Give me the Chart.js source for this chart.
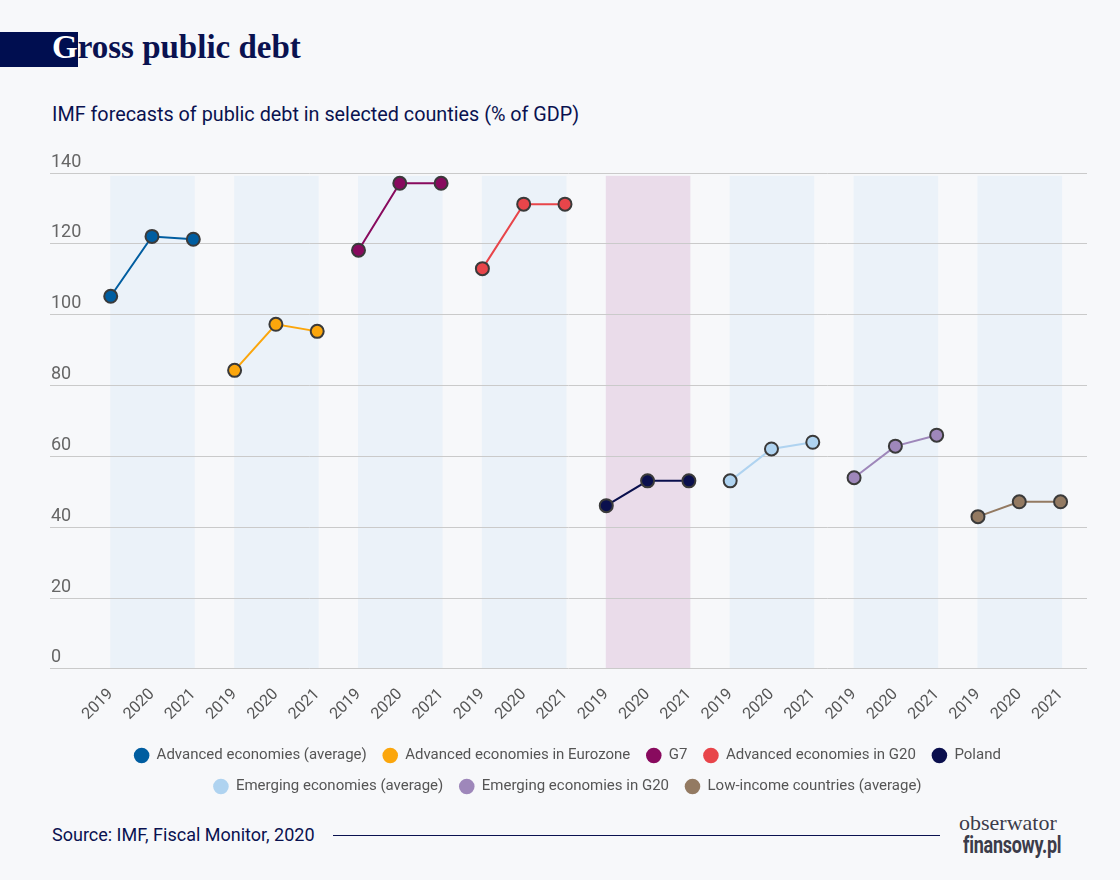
<!DOCTYPE html>
<html><head><meta charset="utf-8">
<script src="https://cdn.jsdelivr.net/npm/chart.js@4"></script>
<style>
html,body{margin:0;padding:0;background:#F7F8FA;}
#page{position:relative;width:1120px;height:880px;overflow:hidden;background:#F7F8FA;font-family:Roboto,sans-serif;}
#tbox{position:absolute;left:0;top:32px;width:78px;height:35px;background:#000E50;}
#title{position:absolute;left:52px;top:31px;font:bold 33px/33px "Liberation Serif",serif;color:#0A1250;white-space:nowrap;}
#title span{color:#fff;}
#sub{position:absolute;left:52px;top:103px;font:19.8px/24px Roboto,sans-serif;color:#0A1250;white-space:nowrap;}
#wrap{position:absolute;left:0;top:130px;width:1120px;height:680px;}
#src{position:absolute;left:52px;top:824px;font:18px/22px Roboto,sans-serif;color:#0A1250;white-space:nowrap;}
#rule{position:absolute;left:333px;top:835px;width:607px;height:1px;background:#0A1250;}
#logo1{position:absolute;left:959px;top:812px;font:22px/22px "Liberation Serif",serif;color:#3C3C4A;white-space:nowrap;}
#logo2{position:absolute;left:963px;top:834px;font:bold 23px/23px Roboto,sans-serif;color:#3C3C4A;white-space:nowrap;transform:scaleX(0.78);transform-origin:left top;letter-spacing:-0.3px;}
</style></head>
<body><div id="page">
<div id="tbox"></div>
<div id="title"><span>G</span>ross public debt</div>
<div id="sub">IMF forecasts of public debt in selected counties (% of GDP)</div>
<div id="wrap"><canvas id="c"></canvas></div>
<div id="src">Source: IMF, Fiscal Monitor, 2020</div>
<div id="rule"></div>
<div id="logo1">obserwator</div>
<div id="logo2">finansowy.pl</div>
</div>
<script>
// ---- data ----
const years = ['2019', '2020', '2021'];
const groupNames = [
  'Advanced economies (average)',
  'Advanced economies in Eurozone',
  'G7',
  'Advanced economies in G20',
  'Poland',
  'Emerging economies (average)',
  'Emerging economies in G20',
  'Low-income countries (average)'
];
const advancedAvg      = [105.2, 122.1, 121.3];
const advancedEurozone = [84.3, 97.3, 95.3];
const g7               = [118.2, 137.1, 137.1];
const advancedG20      = [113.0, 131.2, 131.2];
const poland           = [46.1, 53.1, 53.1];
const emergingAvg      = [53.1, 62.1, 64.0];
const emergingG20      = [54.0, 62.9, 66.0];
const lowIncome        = [43.0, 47.2, 47.2];
const yTickValues      = [0, 20, 40, 60, 80, 100, 120, 140];
const highlightGroup   = 'Poland';

// ---- styles ----
const seriesColors = ['#005DA0', '#FBA60C', '#880A5E', '#E8454A', '#0A0F4D', '#AFD3F0', '#9E87BA', '#937A62'];
const bandBlue = '#EBF2F9';
const bandPink = '#EADCEA';

const seriesValues = [advancedAvg, advancedEurozone, g7, advancedG20, poland, emergingAvg, emergingG20, lowIncome];
const xIndex = [];
seriesValues.forEach((vals, g) => vals.forEach((v, i) => xIndex.push(g * years.length + i)));

const datasets = seriesValues.map((vals, g) => ({
  label: groupNames[g],
  data: vals.map((v, i) => ({x: g * years.length + i, y: v})),
  borderColor: seriesColors[g],
  backgroundColor: seriesColors[g],
  pointBackgroundColor: seriesColors[g],
  pointBorderColor: '#3A3A3A',
  pointBorderWidth: 2,
  pointRadius: 6.5,
  borderWidth: 2,
  tension: 0
}));

const bandPlugin = {
  id: 'bands',
  beforeDraw(chart) {
    const {ctx, scales: {x, y}} = chart;
    ctx.save();
    seriesValues.forEach((vals, g) => {
      const x0 = x.getPixelForValue(g * years.length) - 0.5;
      const x1 = x.getPixelForValue(g * years.length + vals.length - 1) + 1.5;
      const y0 = y.getPixelForValue(139.2);
      const y1 = y.getPixelForValue(0);
      ctx.fillStyle = groupNames[g] === highlightGroup ? bandPink : bandBlue;
      ctx.fillRect(x0, y0, x1 - x0, y1 - y0);
    });
    ctx.restore();
  }
};

const chart = new Chart(document.getElementById('c'), {
  type: 'line',
  data: {datasets},
  plugins: [bandPlugin],
  options: {
    responsive: true,
    maintainAspectRatio: false,
    animation: false,
    events: [],
    layout: {padding: {left: 48, right: 33, top: 43, bottom: 6}},
    scales: {
      x: {
        type: 'linear',
        min: -1.47,
        max: 23.64,
        grid: {display: false},
        border: {display: false},
        afterBuildTicks(scale) { scale.ticks = xIndex.map(v => ({value: v})); },
        ticks: {
          autoSkip: false,
          minRotation: 45,
          maxRotation: 45,
          padding: 8,
          color: '#555555',
          font: {family: 'Roboto', size: 16},
          callback: (value) => years[value % years.length]
        }
      },
      y: {
        min: 0,
        max: 140,
        afterBuildTicks(scale) { scale.ticks = yTickValues.map(v => ({value: v})); },
        grid: {color: '#CACACA', lineWidth: 1, drawTicks: false},
        border: {display: false},
        ticks: {
          mirror: true,
          padding: 1,
          labelOffset: -11,
          color: '#666666',
          font: {family: 'Roboto', size: 18}
        }
      }
    },
    plugins: {
      tooltip: {enabled: false},
      legend: {
        position: 'bottom',
        labels: {
          usePointStyle: true,
          boxWidth: 15,
          boxHeight: 11,
          padding: 16,
          color: '#555555',
          font: {family: 'Roboto', size: 15},
          generateLabels(chart) {
            return chart.data.datasets.map((d, i) => ({
              text: d.label,
              fillStyle: d.backgroundColor,
              strokeStyle: d.backgroundColor,
              lineWidth: 0,
              pointStyle: 'circle',
              hidden: false,
              datasetIndex: i,
              fontColor: '#555555'
            }));
          }
        }
      }
    }
  }
});
</script>
</body></html>
